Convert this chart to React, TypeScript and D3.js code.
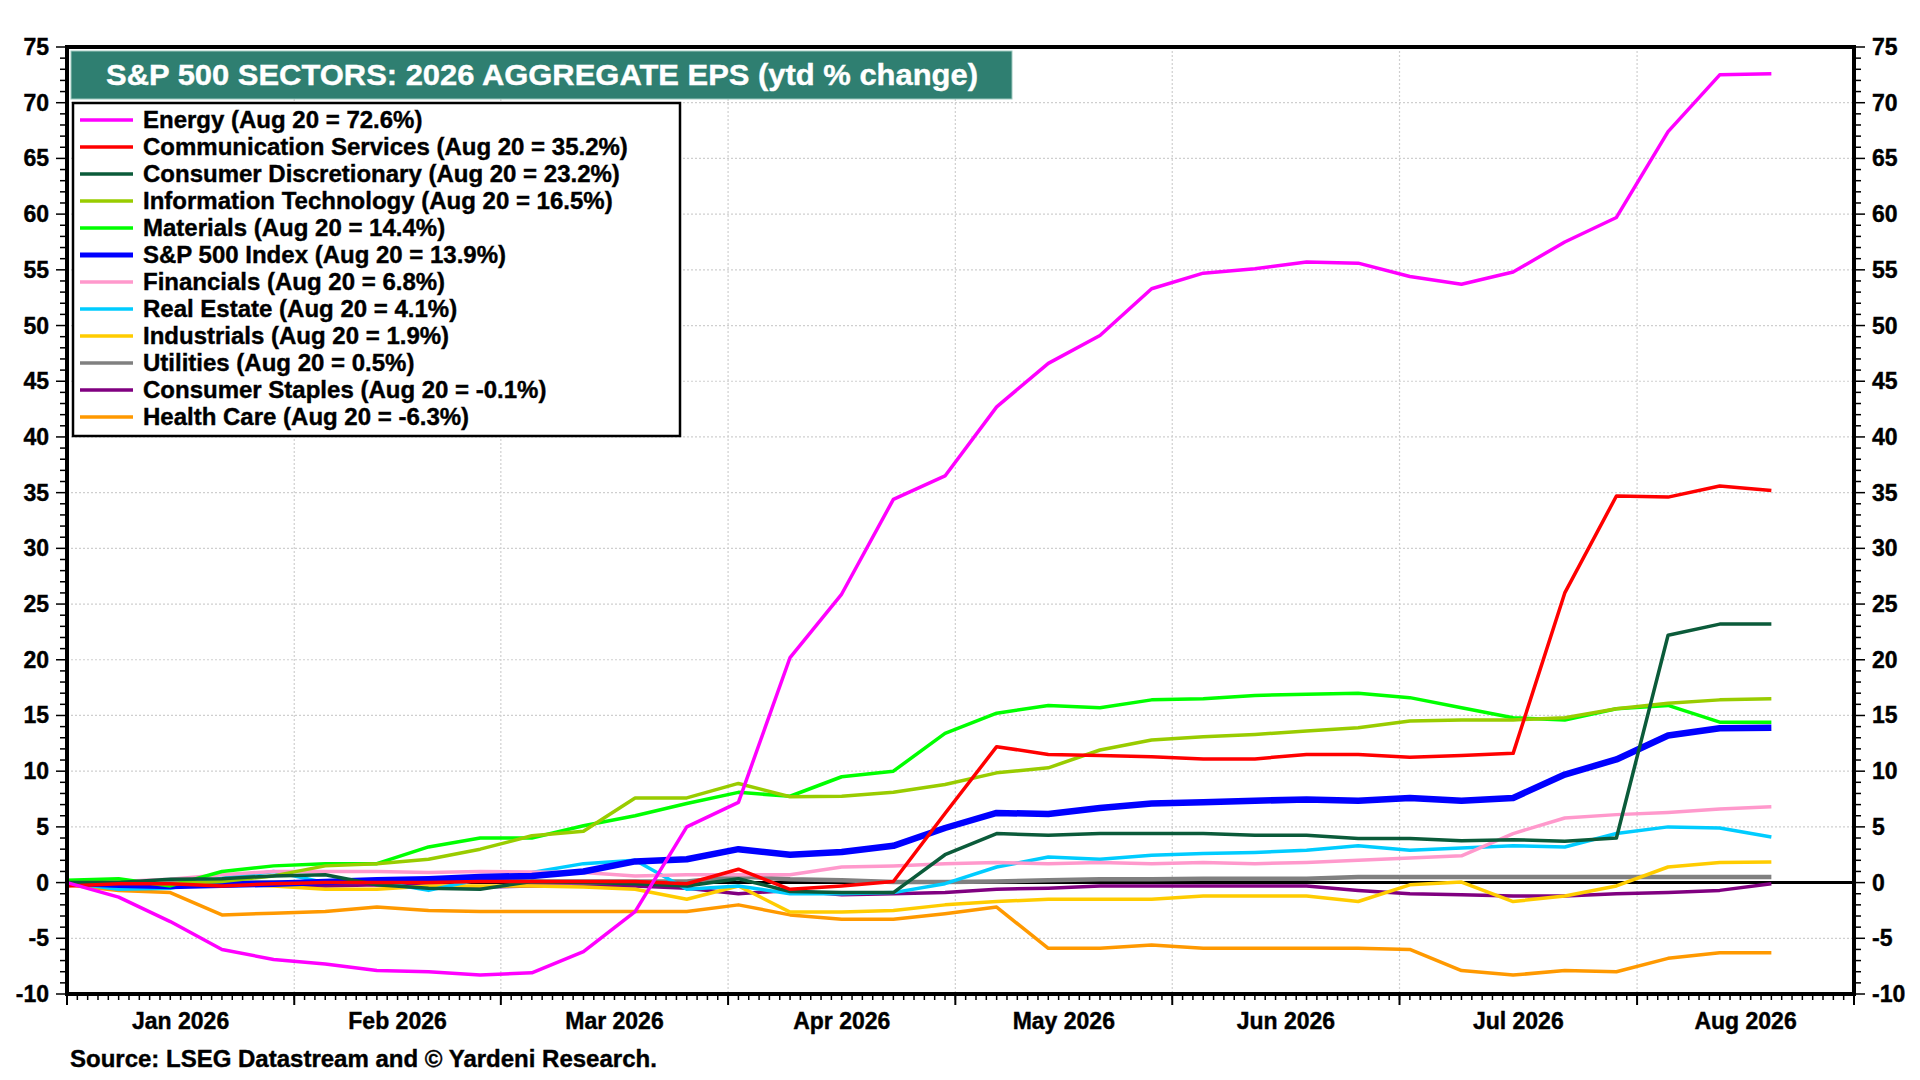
import React, { useEffect, useRef } from "react";
import * as d3 from "d3";

// weekly observations (Thursdays)
const weekDates = [
  "2026-01-01", "2026-01-08", "2026-01-15", "2026-01-22", "2026-01-29",
  "2026-02-05", "2026-02-12", "2026-02-19", "2026-02-26",
  "2026-03-05", "2026-03-12", "2026-03-19", "2026-03-26",
  "2026-04-02", "2026-04-09", "2026-04-16", "2026-04-23", "2026-04-30",
  "2026-05-07", "2026-05-14", "2026-05-21", "2026-05-28",
  "2026-06-04", "2026-06-11", "2026-06-18", "2026-06-25",
  "2026-07-02", "2026-07-09", "2026-07-16", "2026-07-23", "2026-07-30",
  "2026-08-06", "2026-08-13", "2026-08-20",
];

const energy = [0, -1.3, -3.5, -6.0, -6.9, -7.3, -7.9, -8.0, -8.3, -8.1, -6.2, -2.6, 5.0, 7.2, 20.2, 25.9, 34.4, 36.5, 42.7, 46.6, 49.1, 53.3, 54.7, 55.1, 55.7, 55.6, 54.4, 53.7, 54.8, 57.5, 59.7, 67.4, 72.5, 72.6];
const commServices = [-0.3, -0.1, -0.1, -0.3, -0.1, 0, 0, 0, 0.1, 0.1, 0.1, 0.1, -0.1, 1.2, -0.6, -0.3, 0.1, 6.2, 12.2, 11.5, 11.4, 11.3, 11.1, 11.1, 11.5, 11.5, 11.25, 11.4, 11.6, 26.0, 34.7, 34.6, 35.6, 35.2];
const consDisc = [0, 0, 0.3, 0.35, 0.6, 0.7, -0.2, -0.5, -0.6, 0.1, 0, -0.1, -0.3, 0.35, -0.8, -0.9, -0.9, 2.5, 4.4, 4.25, 4.4, 4.4, 4.4, 4.25, 4.25, 3.95, 3.95, 3.75, 3.85, 3.7, 4.0, 22.2, 23.2, 23.2];
const infoTech = [0, 0, -0.1, 0.1, 0.6, 1.5, 1.7, 2.1, 3.0, 4.2, 4.6, 7.6, 7.6, 8.9, 7.7, 7.75, 8.1, 8.8, 9.85, 10.3, 11.9, 12.8, 13.1, 13.3, 13.6, 13.9, 14.5, 14.6, 14.6, 14.8, 15.6, 16.1, 16.4, 16.5];
const materials = [0.2, 0.35, -0.3, 1.0, 1.5, 1.7, 1.7, 3.2, 4.0, 4.0, 5.1, 6.0, 7.1, 8.1, 7.75, 9.5, 10.0, 13.4, 15.2, 15.9, 15.7, 16.4, 16.5, 16.8, 16.9, 17.0, 16.6, 15.7, 14.8, 14.6, 15.6, 15.9, 14.4, 14.4];
const sp500 = [0, -0.2, -0.3, -0.2, -0.1, 0.05, 0.2, 0.3, 0.5, 0.6, 1.0, 1.9, 2.1, 3.0, 2.5, 2.75, 3.3, 4.9, 6.25, 6.15, 6.7, 7.1, 7.2, 7.35, 7.45, 7.35, 7.6, 7.35, 7.6, 9.7, 11.05, 13.2, 13.85, 13.9];
const financials = [0, 0.1, 0.3, 0.7, 1.0, 1.0, 1.0, 0.9, 1.0, 0.95, 0.9, 0.6, 0.7, 0.7, 0.7, 1.4, 1.5, 1.7, 1.8, 1.7, 1.8, 1.7, 1.8, 1.7, 1.8, 2.0, 2.2, 2.4, 4.4, 5.8, 6.1, 6.3, 6.6, 6.8];
const realEstate = [0, -0.6, -0.5, 0.4, 1.0, 0, 0.1, -0.7, 0.3, 0.9, 1.7, 2.0, -0.6, -0.3, -1.0, -1.0, -0.9, -0.1, 1.4, 2.3, 2.1, 2.45, 2.6, 2.7, 2.9, 3.3, 2.9, 3.1, 3.3, 3.2, 4.4, 5.0, 4.9, 4.1];
const industrials = [0, -0.1, -0.2, -0.1, -0.3, -0.6, -0.6, -0.3, -0.3, -0.3, -0.4, -0.6, -1.5, -0.3, -2.65, -2.65, -2.5, -2.0, -1.7, -1.5, -1.5, -1.5, -1.2, -1.2, -1.2, -1.7, -0.2, 0.05, -1.7, -1.2, -0.3, 1.4, 1.8, 1.85];
const utilities = [0, 0, 0, 0, 0, 0, 0.1, 0.2, 0.2, 0.1, 0.1, 0.1, 0.1, 0.55, 0.3, 0.2, 0.05, 0.05, 0.1, 0.2, 0.3, 0.3, 0.35, 0.35, 0.35, 0.5, 0.5, 0.5, 0.5, 0.5, 0.5, 0.5, 0.5, 0.5];
const consStaples = [0, -0.1, -0.1, -0.1, -0.2, -0.3, -0.2, -0.3, -0.4, -0.3, -0.3, -0.3, -0.5, -1.0, -0.7, -1.1, -1.0, -0.9, -0.6, -0.5, -0.3, -0.3, -0.3, -0.3, -0.3, -0.7, -1.0, -1.1, -1.2, -1.2, -1.0, -0.9, -0.7, -0.1];
const healthCare = [-0.2, -0.7, -0.9, -2.9, -2.75, -2.6, -2.2, -2.5, -2.6, -2.6, -2.6, -2.6, -2.6, -2.0, -2.9, -3.3, -3.3, -2.8, -2.2, -5.9, -5.9, -5.6, -5.9, -5.9, -5.9, -5.9, -6.0, -7.9, -8.3, -7.9, -8.0, -6.8, -6.3, -6.3];

const seriesNames = [
  "Energy (Aug 20 = 72.6%)",
  "Communication Services (Aug 20 = 35.2%)",
  "Consumer Discretionary (Aug 20 = 23.2%)",
  "Information Technology (Aug 20 = 16.5%)",
  "Materials (Aug 20 = 14.4%)",
  "S&P 500 Index (Aug 20 = 13.9%)",
  "Financials (Aug 20 = 6.8%)",
  "Real Estate (Aug 20 = 4.1%)",
  "Industrials (Aug 20 = 1.9%)",
  "Utilities (Aug 20 = 0.5%)",
  "Consumer Staples (Aug 20 = -0.1%)",
  "Health Care (Aug 20 = -6.3%)",
];
const seriesValues = [energy, commServices, consDisc, infoTech, materials, sp500, financials, realEstate, industrials, utilities, consStaples, healthCare];
const seriesColors = ["#FF00FF", "#FF0000", "#0B5B3A", "#99CC00", "#00FF00", "#0000FF", "#FF99CC", "#00CCFF", "#FFCC00", "#808080", "#800080", "#FF9900"];
const seriesWidths = [3.5, 3.5, 3.5, 3.5, 3.5, 6.5, 3.5, 3.5, 3.5, 4.5, 3.5, 3.5];

const yTicks = [-10, -5, 0, 5, 10, 15, 20, 25, 30, 35, 40, 45, 50, 55, 60, 65, 70, 75];
const titleText = "S&P 500 SECTORS: 2026 AGGREGATE EPS (ytd % change)";
const sourceText = "Source: LSEG Datastream and \u00A9 Yardeni Research.";

const FONT = "'Liberation Sans', Arial, sans-serif";

export default function App() {
  const svgRef = useRef<SVGSVGElement>(null);

  useEffect(() => {
    if (!svgRef.current) return;
    d3.select(svgRef.current).selectAll("*").remove();

    const W = 1920, H = 1080;
    const margin = { top: 47, right: 66, bottom: 86, left: 67 };
    const x0 = margin.left, x1 = W - margin.right;
    const y0 = margin.top, y1 = H - margin.bottom;

    const svg = d3.select(svgRef.current).attr("width", W).attr("height", H);
    svg.append("rect").attr("width", W).attr("height", H).attr("fill", "#fff");

    // business-day axis
    const parse = d3.timeParse("%Y-%m-%d");
    const start = parse("2026-01-01")!;
    const end = parse("2026-09-01")!;
    const isWeekday = (d: Date) => d.getDay() !== 0 && d.getDay() !== 6;
    const bday = (d: Date) => d3.timeDay.range(start, d).filter(isWeekday).length;

    const x = d3.scaleLinear().domain([0, bday(end)]).range([x0, x1]);
    const y = d3.scaleLinear().domain([-10, 75]).range([y1, y0]);

    const months = d3.timeMonth.range(start, d3.timeMonth.offset(end, 1));
    const monthIdx = months.map(bday);
    const allDays = d3.timeDay.range(start, end).filter(isWeekday).map(bday);

    const bold = (sel: any, size: number) =>
      sel.attr("font-family", FONT).attr("font-weight", "bold").attr("font-size", size)
        .attr("stroke", sel.attr("fill") || "#000").attr("stroke-width", 0.4);

    // grid
    const grid = svg.append("g").attr("stroke", "#cfcfcf").attr("stroke-width", 1.2).attr("stroke-dasharray", "2,2");
    yTicks.filter(v => v !== 0 && v > -10 && v < 75).forEach(v => {
      grid.append("line").attr("x1", x0).attr("x2", x1).attr("y1", y(v)).attr("y2", y(v));
    });
    monthIdx.slice(1, -1).forEach(m => {
      grid.append("line").attr("x1", x(m)).attr("x2", x(m)).attr("y1", y0).attr("y2", y1);
    });

    // zero line
    svg.append("line").attr("x1", x0).attr("x2", x1).attr("y1", y(0)).attr("y2", y(0))
      .attr("stroke", "#000").attr("stroke-width", 3);

    // series
    const dates = weekDates.map(s => bday(parse(s)!));
    const line = d3.line<number>().x((_, i) => x(dates[i])).y(d => y(d));
    for (let k = seriesValues.length - 1; k >= 0; k--) {
      svg.append("path")
        .datum(seriesValues[k])
        .attr("fill", "none")
        .attr("stroke", seriesColors[k])
        .attr("stroke-width", seriesWidths[k])
        .attr("stroke-linejoin", "round")
        .attr("d", line);
    }

    // frame
    svg.append("rect").attr("x", x0).attr("y", y0).attr("width", x1 - x0).attr("height", y1 - y0)
      .attr("fill", "none").attr("stroke", "#000").attr("stroke-width", 4);

    // y axes (both sides)
    const minorY = d3.range(-10, 76, 1);
    const ax = svg.append("g").attr("stroke", "#000").attr("stroke-width", 1.5);
    minorY.forEach(v => {
      const len = v % 5 === 0 ? 9 : 5;
      ax.append("line").attr("x1", x0 - 2).attr("x2", x0 - 2 - len).attr("y1", y(v)).attr("y2", y(v));
      ax.append("line").attr("x1", x1 + 2).attr("x2", x1 + 2 + len).attr("y1", y(v)).attr("y2", y(v));
    });
    yTicks.forEach(v => {
      bold(svg.append("text").attr("x", 49).attr("y", y(v) + 8).attr("text-anchor", "end"), 23).text(v);
      bold(svg.append("text").attr("x", 1872).attr("y", y(v) + 8).attr("text-anchor", "start"), 23).text(v);
    });

    // x axis ticks
    allDays.forEach(d => {
      ax.append("line").attr("x1", x(d)).attr("x2", x(d)).attr("y1", y1 + 2).attr("y2", y1 + 6);
    });
    monthIdx.forEach(m => {
      ax.append("line").attr("x1", x(m)).attr("x2", x(m)).attr("y1", y1 + 2).attr("y2", y1 + 11)
        .attr("stroke-width", 2);
    });
    const fmt = d3.timeFormat("%b %Y");
    months.slice(0, -1).forEach((m, i) => {
      bold(svg.append("text").attr("x", x((monthIdx[i] + monthIdx[i + 1]) / 2)).attr("y", 1029)
        .attr("text-anchor", "middle"), 23).text(fmt(m));
    });

    // title box
    svg.append("rect").attr("x", 71).attr("y", 51).attr("width", 941).attr("height", 48)
      .attr("fill", "#2F7F71").attr("stroke", "#9fc9bf").attr("stroke-width", 1);
    bold(svg.append("text").attr("x", 106).attr("y", 85).attr("fill", "#fff"), 30)
      .attr("textLength", 872).attr("lengthAdjust", "spacingAndGlyphs").text(titleText);

    // legend
    svg.append("rect").attr("x", 73).attr("y", 103).attr("width", 607).attr("height", 333)
      .attr("fill", "#fff").attr("stroke", "#000").attr("stroke-width", 2.5);
    seriesNames.forEach((name, k) => {
      const cy = 120 + 27 * k;
      svg.append("line").attr("x1", 80).attr("x2", 133).attr("y1", cy).attr("y2", cy)
        .attr("stroke", seriesColors[k]).attr("stroke-width", seriesWidths[k] > 6 ? 5 : 3.5);
      bold(svg.append("text").attr("x", 143).attr("y", cy + 8), 24).text(name);
    });

    // source
    bold(svg.append("text").attr("x", 70).attr("y", 1067), 24).text(sourceText);
  }, []);

  return (
    <div style={{ position: "absolute", left: 0, top: 0 }}>
      <svg ref={svgRef}></svg>
    </div>
  );
}
